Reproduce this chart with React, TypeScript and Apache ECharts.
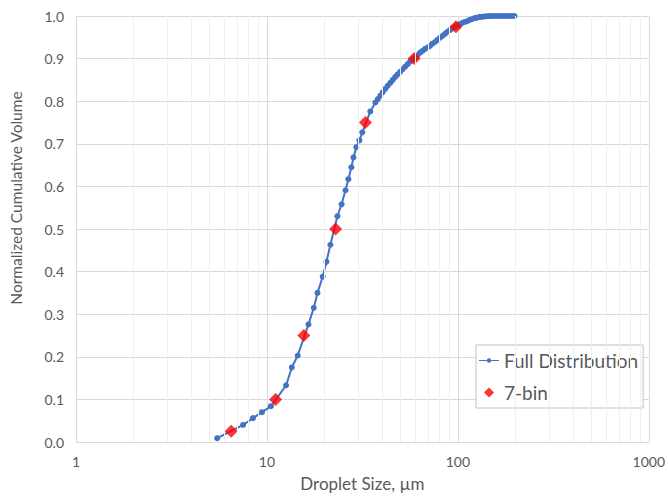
import React, { useEffect, useRef } from "react";
import * as echarts from "echarts";

// Full distribution: droplet size (µm) and normalized cumulative volume
const fullSizes = [
  5.49, 7.5, 8.45, 9.42, 10.5, 12.6, 13.5, 14.5, 16.5, 17.6, 18.4, 19.6, 20.5, 21.5, 23.4,
  24.6, 25.8, 26.7, 27.7, 28.4, 29.4, 30.5, 31.6, 34.8, 37.0, 38.1, 39.3, 40.4, 41.7, 42.9,
  44.3, 45.6, 47.0, 48.4, 49.9, 51.4, 53.0, 54.6, 56.2, 57.9, 59.7, 61.5, 63.4, 65.3, 67.3,
  69.4, 71.5, 73.6, 75.9, 78.2, 80.6, 83.0, 85.6, 88.2, 90.9, 93.6, 96.5, 99.4, 102.4, 105.5,
  108.8, 112.1, 115.5, 119.0, 122.6, 126.3, 130.2, 134.1, 138.2, 142.4, 146.8, 151.2, 155.8,
  160.6, 165.5, 170.5, 175.7, 181.0, 186.6, 192.2, 198.1,
];
const fullVolumes = [
  0.009, 0.04, 0.056, 0.07, 0.084, 0.133, 0.175, 0.203, 0.276, 0.315, 0.35, 0.388, 0.423,
  0.463, 0.53, 0.558, 0.591, 0.617, 0.645, 0.668, 0.692, 0.708, 0.727, 0.776, 0.797, 0.805,
  0.813, 0.821, 0.829, 0.836, 0.843, 0.85, 0.857, 0.863, 0.869, 0.875, 0.881, 0.887, 0.893,
  0.897, 0.902, 0.908, 0.914, 0.918, 0.923, 0.926, 0.93, 0.935, 0.939, 0.944, 0.949, 0.953,
  0.958, 0.963, 0.967, 0.971, 0.974, 0.978, 0.981, 0.984, 0.986, 0.988, 0.991, 0.993, 0.995,
  0.996, 0.998, 0.998, 0.999, 0.9995, 0.9998, 1.0, 1.0, 1.0, 1.0, 1.0, 1.0, 1.0, 1.0, 1.0, 1.0,
];

// 7-bin representation
const binSizes = [6.5, 11.1, 15.6, 22.9, 32.8, 59.0, 97.7];
const binVolumes = [0.025, 0.1, 0.25, 0.5, 0.75, 0.9, 0.975];

// Minor vertical grid positions on the log axis
const minorTicks = [
  2, 3, 4, 5, 6, 7, 8, 9, 20, 30, 40, 50, 60, 70, 80, 90, 200, 300, 400, 500, 600, 700, 800, 900,
];

const FONT = "Lato, 'Open Sans', sans-serif";
const TEXT = "#595959";
const BLUE = "#4472c4";
const RED = "#ff0000";

const LINE_ICON =
  "path://M0,4.4h20v1.2h-20z M7.8,5a2.2,2.2 0 1,1 4.4,0a2.2,2.2 0 1,1 -4.4,0z";
const DIAMOND_ICON = "path://M5,0 L10,5 L5,10 L0,5 Z";

export default function App() {
  const ref = useRef<HTMLDivElement>(null);
  useEffect(() => {
    if (!ref.current) return;
    const chart = echarts.init(ref.current, null, { renderer: "svg" });
    const full = fullSizes.map((s, i) => [s, fullVolumes[i]]);
    const bins = binSizes.map((s, i) => [s, binVolumes[i]]);
    chart.setOption({
      animation: false,
      backgroundColor: "#ffffff",
      textStyle: { fontFamily: FONT },
      grid: { left: 76, right: 15, top: 16, bottom: 53 },
      graphic: [
        {
          type: "text",
          x: 16,
          y: 198,
          rotation: Math.PI / 2,
          style: {
            text: "Normalized Cumulative Volume",
            fontSize: 15.5,
            fontFamily: FONT,
            fill: TEXT,
            textAlign: "center",
            textVerticalAlign: "middle",
          },
        },
      ],
      legend: {
        orient: "vertical",
        left: 476,
        top: 345,
        padding: [4, 5, 4, 3],
        itemGap: 9,
        itemWidth: 20,
        itemHeight: 10,
        borderColor: "#bfbfbf",
        borderWidth: 1,
        borderRadius: 0,
        backgroundColor: "#ffffff",
        textStyle: { fontSize: 19, color: TEXT, fontFamily: FONT, lineHeight: 23 },
        data: [
          {
            name: "Full Distribution",
            icon: LINE_ICON,
            itemStyle: { color: BLUE, borderWidth: 0 },
          },
          {
            name: "7-bin",
            icon: DIAMOND_ICON,
            itemStyle: { color: RED, borderWidth: 0 },
          },
        ],
      },
      xAxis: {
        type: "log",
        logBase: 10,
        min: 1,
        max: 1000,
        name: "Droplet Size, µm",
        nameLocation: "middle",
        nameGap: 33,
        nameTextStyle: { fontSize: 17, color: TEXT, fontFamily: FONT },
        axisLine: { show: true, lineStyle: { color: "#d9d9d9", width: 1 } },
        axisTick: { show: false },
        axisLabel: {
          fontSize: 14,
          color: TEXT,
          margin: 12,
          fontFamily: FONT,
          formatter: (v: number) => String(Math.round(v)),
        },
        splitLine: { show: true, lineStyle: { color: "#d9d9d9", width: 1 } },
      },
      yAxis: {
        type: "value",
        min: 0,
        max: 1,
        interval: 0.1,
        axisLine: { show: false },
        axisTick: { show: false },
        axisLabel: {
          fontSize: 14,
          color: TEXT,
          margin: 12,
          fontFamily: FONT,
          formatter: (v: number) => v.toFixed(1),
        },
        splitLine: { show: true, lineStyle: { color: "#d9d9d9", width: 1 } },
      },
      series: [
        {
          name: "minor",
          type: "line",
          data: [],
          z: 1,
          silent: true,
          markLine: {
            silent: true,
            symbol: "none",
            label: { show: false },
            lineStyle: { color: "#eeeeee", width: 1, type: "solid" },
            data: minorTicks.map((t) => ({ xAxis: t })),
          },
        },
        {
          name: "Full Distribution",
          type: "line",
          data: full,
          z: 3,
          symbol: "circle",
          symbolSize: 6,
          showSymbol: true,
          showAllSymbol: true,
          color: BLUE,
          lineStyle: { color: BLUE, width: 2 },
          itemStyle: { color: BLUE },
        },
        {
          name: "7-bin",
          type: "scatter",
          data: bins,
          z: 4,
          symbol: "diamond",
          symbolSize: 13,
          color: RED,
          itemStyle: { color: RED },
        },
      ],
    });
    return () => chart.dispose();
  }, []);
  return <div ref={ref} style={{ width: 668, height: 497, position: "absolute", left: 0, top: 0 }} />;
}
